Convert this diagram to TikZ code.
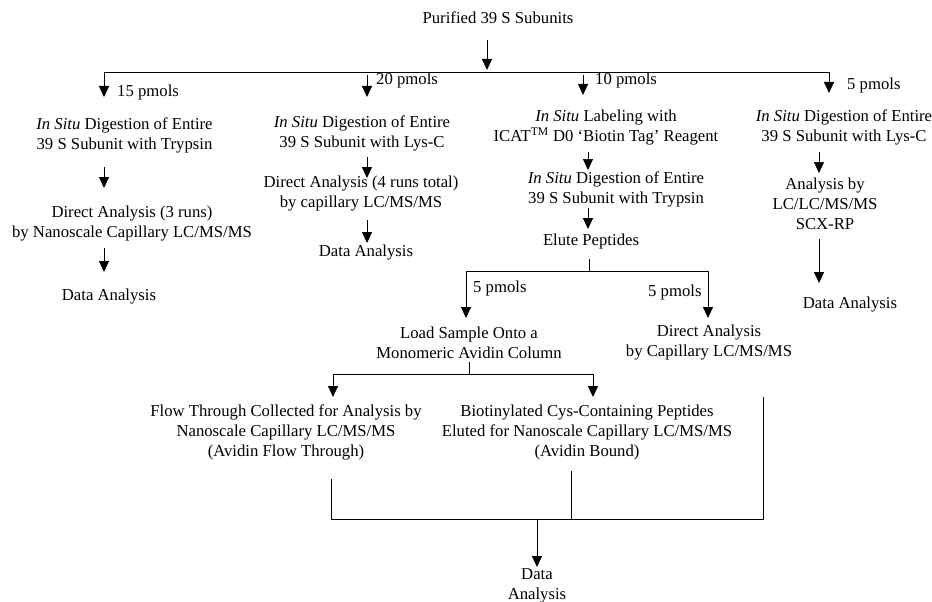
\documentclass[tikz,border=0pt]{standalone}
\usepackage{fontspec}
\setmainfont{Liberation Serif}
\usetikzlibrary{arrows.meta}
\begin{document}
\begin{tikzpicture}[x=1pt,y=-1pt,
  txt/.style={font=\fontsize{16.7}{20}\selectfont, align=center, inner sep=0pt},
  lbl/.style={txt, anchor=west},
  conn/.style={line width=0.9pt, draw=black},
  arr/.style={conn, -{Triangle[width=10pt,length=11pt]}}]
\useasboundingbox (0,0) rectangle (932,602);
% ---- text nodes
\node[txt] (title) at (498,18) {Purified 39 S Subunits};
\node[lbl] (p15) at (117,92) {15 pmols};
\node[lbl] (p20) at (376,80) {20 pmols};
\node[lbl] (p10) at (595,80) {10 pmols};
\node[lbl] (p5) at (847,85) {5 pmols};
\node[txt] (c1a) at (124.5,135) {\textit{In Situ} Digestion of Entire\\39 S Subunit with Trypsin};
\node[txt] (c1b) at (132,223.5) {Direct Analysis (3 runs)\\by Nanoscale Capillary LC/MS/MS};
\node[txt] (c1c) at (109,297) {Data Analysis};
\node[txt] (c2a) at (362,133.5) {\textit{In Situ} Digestion of Entire\\39 S Subunit with Lys-C};
\node[txt] (c2b) at (361,194) {Direct Analysis (4 runs total)\\by capillary LC/MS/MS};
\node[txt] (c2c) at (366,253) {Data Analysis};
\node[txt] (c3a) at (606,127.5) {\textit{In Situ} Labeling with\\ICAT\textsuperscript{TM} D0 `Biotin Tag' Reagent};
\node[txt] (c3b) at (616,189.5) {\textit{In Situ} Digestion of Entire\\39 S Subunit with Trypsin};
\node[txt] (c3c) at (591,241) {Elute Peptides};
\node[lbl] (p5b) at (473,288) {5 pmols};
\node[lbl] (p5c) at (648,292) {5 pmols};
\node[txt] (c3d) at (469,343) {Load Sample Onto a\\Monomeric Avidin Column};
\node[txt] (c3e) at (709,343) {Direct Analysis\\by Capillary LC/MS/MS};
\node[txt] (c4a) at (844,127.5) {\textit{In Situ} Digestion of Entire\\39 S Subunit with Lys-C};
\node[txt] (c4b) at (825,203.5) {Analysis by\\LC/LC/MS/MS\\SCX-RP};
\node[txt] (c4c) at (850,305) {Data Analysis};
\node[txt] (flow) at (286,432) {Flow Through Collected for Analysis by\\Nanoscale Capillary LC/MS/MS\\(Avidin Flow Through)};
\node[txt] (bio) at (587,432) {Biotinylated Cys-Containing Peptides\\Eluted for Nanoscale Capillary LC/MS/MS\\(Avidin Bound)};
\node[txt] (data) at (537,586) {Data\\Analysis};
% ---- junction coordinates
\coordinate (t0) at (487,40); \coordinate (t1) at (487,70);
\coordinate (busL) at (104,72); \coordinate (busR) at (829,72);
\coordinate (d1) at (104,97);
\coordinate (s2) at (367,75); \coordinate (d2) at (367,97);
\coordinate (s3) at (583,75); \coordinate (d3) at (583,95);
\coordinate (d4) at (829,93);
\coordinate (a1s) at (104,167); \coordinate (a1e) at (104,188);
\coordinate (a2s) at (104,248); \coordinate (a2e) at (104,272);
\coordinate (b1s) at (367,157); \coordinate (b1e) at (367,178);
\coordinate (b2s) at (367,220); \coordinate (b2e) at (367,243);
\coordinate (e1s) at (588,152); \coordinate (e1e) at (588,170);
\coordinate (e2s) at (588,208); \coordinate (e2e) at (588,229);
\coordinate (e3s) at (589,259); \coordinate (e3b) at (589,271);
\coordinate (ebL) at (466,271); \coordinate (ebR) at (708,271);
\coordinate (edL) at (466,318); \coordinate (edR) at (708,318);
\coordinate (f1s) at (469,362); \coordinate (f1b) at (469,374);
\coordinate (fbL) at (333,374); \coordinate (fbR) at (593,374);
\coordinate (fdL) at (333,397); \coordinate (fdR) at (593,397);
\coordinate (g1s) at (819,152); \coordinate (g1e) at (819,173);
\coordinate (g2s) at (819,239); \coordinate (g2e) at (819,283);
\coordinate (hL) at (331,479); \coordinate (hLb) at (331,519);
\coordinate (hRb) at (763,519); \coordinate (hR) at (763,397);
\coordinate (hM) at (571,471); \coordinate (hMb) at (571,519);
\coordinate (hA) at (537,519); \coordinate (hAe) at (537,567);
% ---- connectors
\draw[arr] (t0) -- (t1);
\draw[conn] (busL) -- (busR);
\draw[arr] (busL) -- (d1);
\draw[arr] (s2) -- (d2);
\draw[arr] (s3) -- (d3);
\draw[arr] (busR) -- (d4);
\draw[arr] (a1s) -- (a1e);
\draw[arr] (a2s) -- (a2e);
\draw[arr] (b1s) -- (b1e);
\draw[arr] (b2s) -- (b2e);
\draw[arr, line width=0.5pt] (e1s) -- (e1e);
\draw[arr] (e2s) -- (e2e);
\draw[conn] (e3s) -- (e3b);
\draw[conn] (ebL) -- (ebR);
\draw[arr] (ebL) -- (edL);
\draw[arr] (ebR) -- (edR);
\draw[conn] (f1s) -- (f1b);
\draw[conn] (fbL) -- (fbR);
\draw[arr] (fbL) -- (fdL);
\draw[arr] (fbR) -- (fdR);
\draw[arr, line width=0.5pt] (g1s) -- (g1e);
\draw[arr] (g2s) -- (g2e);
\draw[conn] (hL) -- (hLb) -- (hRb) -- (hR);
\draw[conn, line width=0.6pt] (hM) -- (hMb);
\draw[arr] (hA) -- (hAe);
\end{tikzpicture}
\end{document}
